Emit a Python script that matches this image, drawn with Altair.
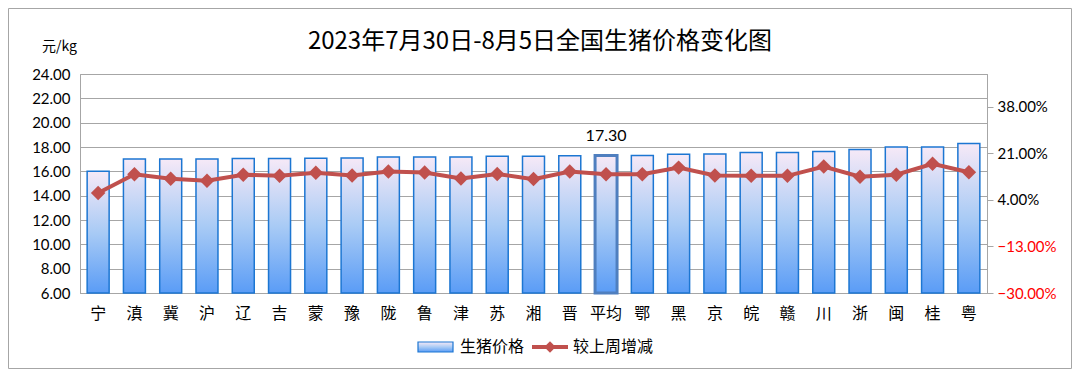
import altair as alt
import pandas as pd

provinces = ["宁", "滇", "冀", "沪", "辽", "吉", "蒙", "豫", "陇", "鲁", "津", "苏", "湘",
             "晋", "平均", "鄂", "黑", "京", "皖", "赣", "川", "浙", "闽", "桂", "粤"]
prices = [16.00, 17.02, 17.02, 17.02, 17.05, 17.05, 17.07, 17.10, 17.18, 17.18, 17.18, 17.23, 17.23,
          17.28, 17.30, 17.30, 17.40, 17.42, 17.55, 17.55, 17.63, 17.79, 18.00, 18.00, 18.28]
changes_pct = [6.5, 13.4, 11.7, 11.0, 13.2, 12.8, 13.9, 12.9, 14.4, 14.0, 11.8, 13.5, 11.6,
               14.4, 13.4, 13.4, 15.8, 12.9, 12.8, 12.8, 16.2, 12.5, 13.2, 17.2, 14.1]
left_ticks = [6, 8, 10, 12, 14, 16, 18, 20, 22, 24]
right_ticks = [-0.30, -0.13, 0.04, 0.21, 0.38]

title_text = "2023年7月30日-8月5日全国生猪价格变化图"
series_names = ["生猪价格", "较上周增减"]

df = pd.DataFrame({
    "province": provinces,
    "price": prices,
    "change": [c / 100 for c in changes_pct],
})

CJK = "Noto Sans CJK SC"
NUM = "Lato"
GRID = "#A6A6A6"

gradient = alt.LinearGradient(
    gradient="linear",
    stops=[
        alt.GradientStop(color="#F6E9F7", offset=0),
        alt.GradientStop(color="#A9CBF5", offset=0.5),
        alt.GradientStop(color="#5A9CF6", offset=1),
    ],
    x1=0, x2=0, y1=0, y2=1,
)

x_enc = alt.X(
    "province:N", sort=provinces,
    scale=alt.Scale(paddingInner=0.394, paddingOuter=0.197),
    axis=alt.Axis(title=None, labelAngle=0, labelFontSize=16, labelFont=CJK,
                  labelColor="#000000", labelPadding=12, ticks=False,
                  domainColor=GRID),
)

y_left = alt.Y(
    "price:Q",
    scale=alt.Scale(domain=[6, 24], zero=False, nice=False),
    axis=alt.Axis(values=left_ticks, tickCount=20, format=".2f", title="元/kg", titleAngle=0,
                  titleX=-21, titleY=-28, titleAlign="center", titleBaseline="middle",
                  titleFontSize=14, titleFontWeight="normal", titleFont=CJK,
                  titleColor="#000000", labelOverlap=False, labelFlush=False,
                  labelFont=NUM, labelFontSize=15, labelColor="#000000", labelPadding=10,
                  ticks=False, grid=True, gridColor=GRID, domainColor=GRID),
)

is_avg = "datum.province == '平均'"

bars = alt.Chart(df).mark_bar(fill=gradient).encode(
    x=x_enc,
    y=y_left,
    y2=alt.datum(6),
    stroke=alt.condition(is_avg, alt.value("#4F7FBF"), alt.value("#1C76D2")),
    strokeWidth=alt.condition(is_avg, alt.value(3), alt.value(1.5)),
)

avg_label = alt.Chart(df).transform_filter(is_avg).mark_text(
    dy=-20, fontSize=16, font=NUM, color="#000000"
).encode(
    x=x_enc,
    y=y_left,
    text=alt.Text("price:Q", format=".2f"),
)

one = pd.DataFrame({"k": [0]})

border = alt.Chart(one).mark_rect(fillOpacity=0, stroke=GRID, strokeWidth=1).encode(
    x=alt.value(-71.5), x2=alt.value(991.5), y=alt.value(-65.5), y2=alt.value(294.5)
)

title_mark = alt.Chart(one).mark_text(align="center", baseline="middle", fontSize=24,
                                      font=CJK, color="#000000").encode(
    x=alt.value(460), y=alt.value(-32), text=alt.value(title_text)
)

leg_rect = alt.Chart(one).mark_rect(fill=gradient, stroke="#1C76D2", strokeWidth=1.2).encode(
    x=alt.value(338), x2=alt.value(373), y=alt.value(268), y2=alt.value(278)
)
leg_text1 = alt.Chart(one).mark_text(align="left", baseline="middle", fontSize=16,
                                     font=CJK, color="#000000").encode(
    x=alt.value(380), y=alt.value(273), text=alt.value(series_names[0])
)
leg_rule = alt.Chart(one).mark_rule(color="#C0504D", strokeWidth=4).encode(
    x=alt.value(452), x2=alt.value(488), y=alt.value(273)
)
leg_pt = alt.Chart(one).mark_point(shape="diamond", filled=True, size=130,
                                   color="#C0504D", opacity=1).encode(
    x=alt.value(470), y=alt.value(273)
)
leg_text2 = alt.Chart(one).mark_text(align="left", baseline="middle", fontSize=16,
                                     font=CJK, color="#000000").encode(
    x=alt.value(493), y=alt.value(273), text=alt.value(series_names[1])
)

left_layer = alt.layer(border, title_mark, bars, avg_label, leg_rect, leg_text1,
                       leg_rule, leg_pt, leg_text2)

y_right = alt.Y(
    "change:Q",
    scale=alt.Scale(domain=[-0.30, 0.50], zero=False, nice=False),
    axis=alt.Axis(orient="right", values=right_ticks, tickCount=20, format=".2%", title=None,
                  grid=False, labelFont=NUM, labelFontSize=15, labelPadding=4, tickSize=6,
                  tickColor=GRID, domainColor=GRID, labelOverlap=False, labelFlush=False,
                  labelColor={"condition": {"test": "datum.value < 0", "value": "#FF0000"},
                              "value": "#000000"}),
)

line = alt.Chart(df).mark_line(
    color="#C0504D", strokeWidth=4,
    point=alt.OverlayMarkDef(shape="diamond", size=210, filled=True, color="#C0504D", opacity=1),
).encode(x=x_enc, y=y_right)

chart = alt.layer(left_layer, line).resolve_scale(y="independent").properties(
    width=907,
    height=219,
    autosize=alt.AutoSizeParams(type="none"),
    padding={"left": 72, "top": 66, "right": 85, "bottom": 76},
    background="#FFFFFF",
).configure_view(stroke=GRID)

chart.save("out.html", embed_options={"renderer": "svg", "actions": False})
